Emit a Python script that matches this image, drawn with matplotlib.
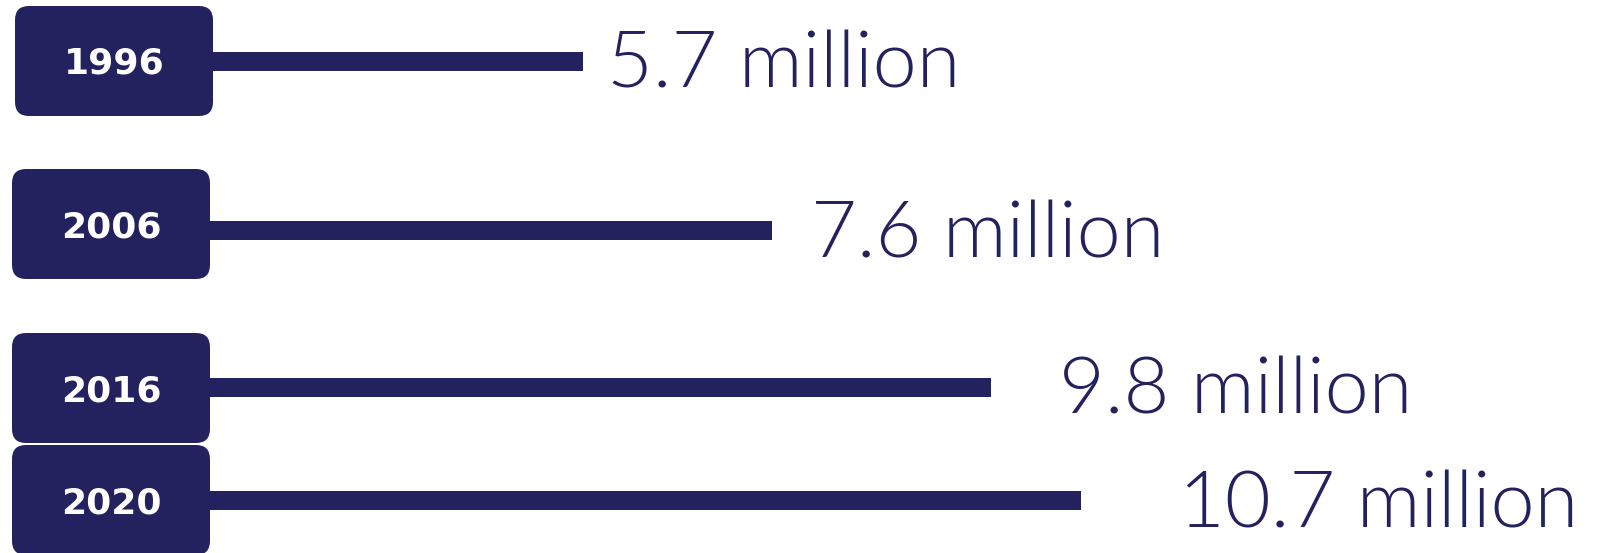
import matplotlib
matplotlib.use("Agg")
import matplotlib.pyplot as plt
from matplotlib.patches import FancyBboxPatch

# Data
years = ["1996", "2006", "2016", "2020"]
values = [5.7, 7.6, 9.8, 10.7]
labels = ["5.7 million", "7.6 million", "9.8 million", "10.7 million"]

NAVY = "#24215F"
W, H = 1600, 553

fig = plt.figure(figsize=(16, 5.53), dpi=100)
fig.patch.set_facecolor("white")

# layout (pixel units, y from top)
bar_y = [61, 230, 387, 500]
box_top = [6, 169, 333, 445]
box_left = [15, 12, 12, 12]
box_w = 198
box_h = 110
label_x = [607, 811, 1059, 1179]

PX_PER_UNIT = 99.6
X0 = 15

# bars axes: data scale in x, pixels in y
ax = fig.add_axes([0, 0, 1, 1])
ax.set_xlim(-X0 / PX_PER_UNIT, (W - X0) / PX_PER_UNIT)
ax.set_ylim(H, 0)
ax.axis("off")
ax.barh(bar_y, values, height=19, color=NAVY, zorder=1)

# overlay in pixel coordinates for boxes and labels
ov = fig.add_axes([0, 0, 1, 1])
ov.set_xlim(0, W)
ov.set_ylim(H, 0)
ov.axis("off")
ov.patch.set_alpha(0)

for yr, bx, bt in zip(years, box_left, box_top):
    r = 14
    p = FancyBboxPatch((bx + r, bt + r), box_w - 2 * r, box_h - 2 * r,
                       boxstyle=f"round,pad={r},rounding_size={r}",
                       facecolor=NAVY, edgecolor="none", zorder=3)
    ov.add_patch(p)
    ov.text(bx + box_w / 2, bt + box_h / 2 + 3, yr, color="white",
            fontsize=26, fontweight="bold", family=["DejaVu Sans"],
            ha="center", va="center", zorder=4)

for lx, y, lab in zip(label_x, bar_y, labels):
    ov.text(lx, y + 27, lab, color=NAVY, fontsize=57,
            fontweight=300, family=["Lato", "DejaVu Sans"],
            ha="left", va="baseline", zorder=4)

fig.savefig("out.png", dpi=100, facecolor="white")
